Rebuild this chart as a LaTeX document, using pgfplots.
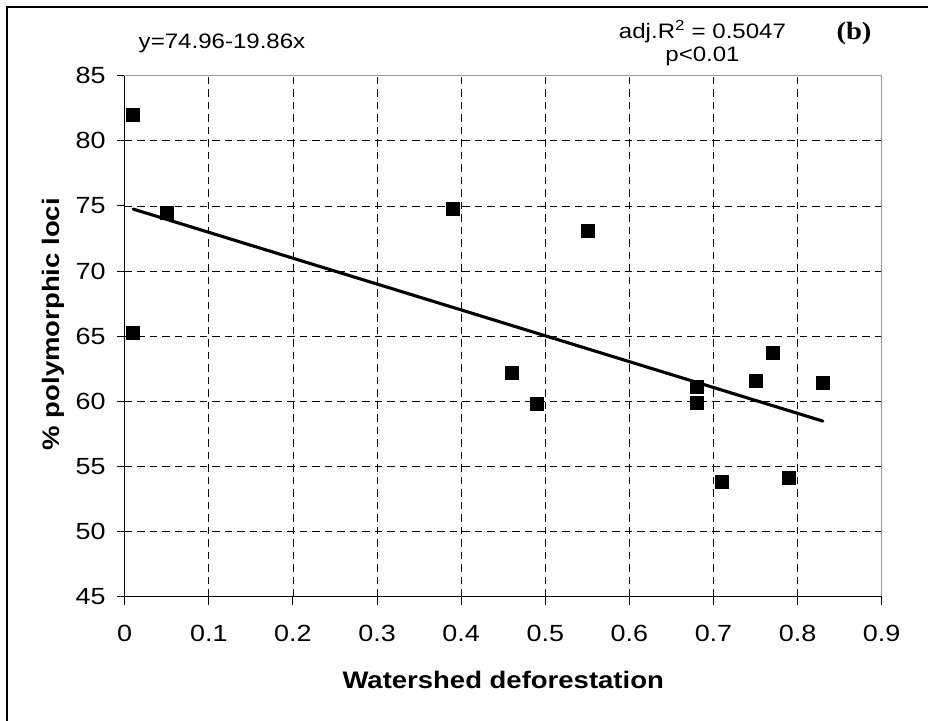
\documentclass[border=0pt]{standalone}
\usepackage{fontspec}
\setmainfont{Liberation Sans}[FakeStretch=1.15]
\newfontfamily\serifb{Liberation Serif}[FakeStretch=1.15]
\usepackage{pgfplots}
\pgfplotsset{compat=1.18}
\begin{document}
\begin{tikzpicture}[x=1bp,y=1bp]
\path[use as bounding box] (0,0) rectangle (928,721);
\draw[line width=1.3bp] (7,-20) -- (7,714) -- (950,714);
\begin{axis}[
  at={(124.7bp,124.3bp)}, anchor=south west,
  scale only axis, width=757bp, height=521bp,
  xmin=0, xmax=0.9, ymin=45, ymax=85,
  xtick={0,0.1,0.2,0.3,0.4,0.5,0.6,0.7,0.8,0.9},
  xticklabels={0,0.1,0.2,0.3,0.4,0.5,0.6,0.7,0.8,0.9},
  ytick={45,50,55,60,65,70,75,80,85},
  yticklabels={45,50,55,60,65,70,75,80,85},
  xtick pos=lower, ytick pos=left,
  tick align=outside, major tick length=8bp,
  tick style={black, line width=1bp},
  tick label style={font=\fontsize{23.5}{23.5}\selectfont, inner sep=0pt},
  yticklabel style={xshift=-11bp},
  xticklabel style={yshift=-20bp},
  grid=major,
  major grid style={black, line width=0.8bp, dash pattern=on 7.5bp off 5bp},
  axis line style={draw=gray!80, line width=1.3bp},
  xlabel={Watershed deforestation},
  ylabel={\% polymorphic loci},
  label style={font=\fontsize{24}{24}\selectfont\bfseries},
  xlabel style={at={(axis description cs:0.5,-0.1753)}, anchor=base},
  ylabel style={at={(axis description cs:-0.0855,0.523)}, anchor=base},
  clip=false,
]
\addplot[only marks, mark=square*, mark size=6.5bp, black] coordinates {
  (0.01,82.0) (0.05,74.5) (0.01,65.3) (0.39,74.8) (0.55,73.1)
  (0.77,63.7) (0.46,62.2) (0.49,59.8) (0.68,61.1) (0.68,59.9)
  (0.75,61.6) (0.83,61.4) (0.71,53.8) (0.79,54.1)
};
\addplot[black, line width=3.1bp, line cap=round] coordinates {(0.01,74.76) (0.83,58.48)};
\draw[black, line width=1.4bp] (rel axis cs:0,1) -- (rel axis cs:0,0) -- (rel axis cs:1,0);
\end{axis}
\node[anchor=base, font=\fontsize{21}{21}\selectfont, inner sep=0pt] at (222,672.7) {y=74.96-19.86x};
\node[anchor=base, font=\fontsize{21}{21}\selectfont, inner sep=0pt] at (702.5,682.7) {adj.R\textsuperscript{2} = 0.5047};
\node[anchor=base, font=\fontsize{21}{21}\selectfont, inner sep=0pt] at (702.5,659.3) {p<0.01};
\node[anchor=base, font=\serifb\fontsize{25}{25}\selectfont\bfseries, inner sep=0pt] at (854,681) {(b)};
\end{tikzpicture}
\end{document}
